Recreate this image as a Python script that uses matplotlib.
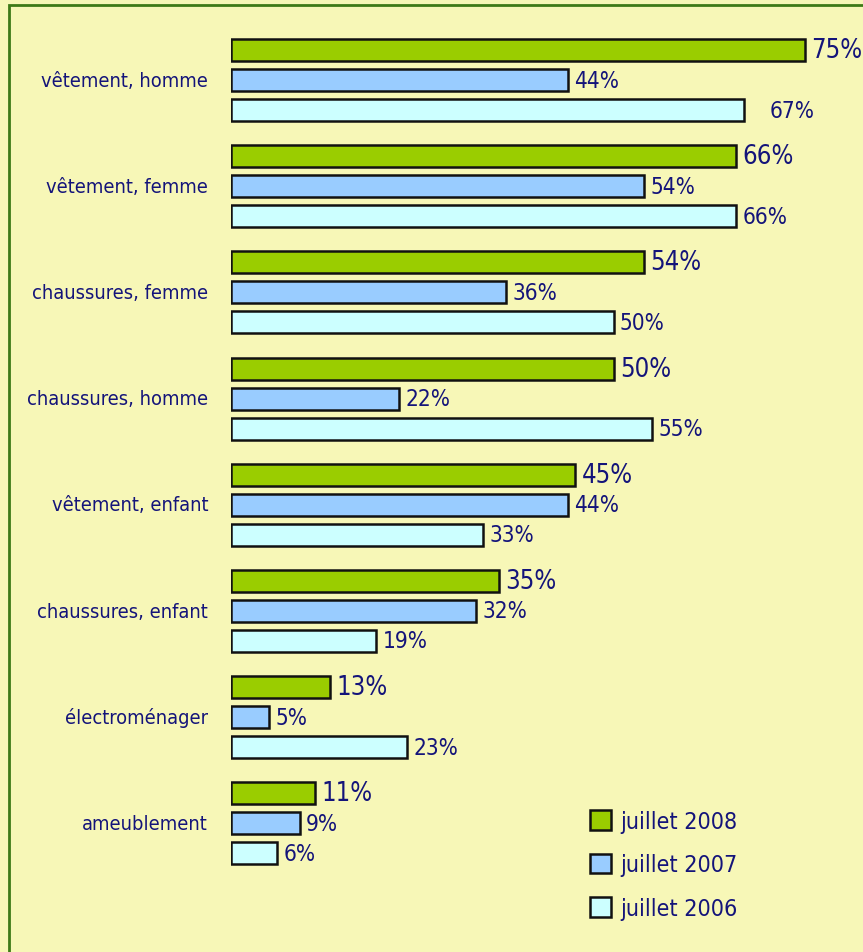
import matplotlib
matplotlib.use("Agg")
import matplotlib.pyplot as plt
from matplotlib.patches import Patch, Rectangle
from matplotlib import font_manager as fm
from matplotlib.textpath import TextPath
import numpy as np

categories = ["vêtement, homme", "vêtement, femme", "chaussures, femme", "chaussures, homme",
              "vêtement, enfant", "chaussures, enfant", "électroménager", "ameublement"]
series_names = ["juillet 2008", "juillet 2007", "juillet 2006"]
v2008 = [75, 66, 54, 50, 45, 35, 13, 11]
v2007 = [44, 54, 36, 22, 44, 32, 5, 9]
v2006 = [67, 66, 50, 55, 33, 19, 23, 6]

BG = "#F7F7B7"
TXT = "#14147A"
colors = ["#9ACD00", "#99CCFF", "#CCFFFF"]

# pick the most condensed installed sans face available
prop = None
prefs = ["LiberationSansNarrow-Regular", "DejaVuSansCondensed.ttf", "Condensed-Regular", "Narrow"]
files = [f.fname for f in fm.fontManager.ttflist]
for key in prefs:
    hits = [p for p in files if key in p.split("/")[-1] and "Bold" not in p and "Oblique" not in p
            and "Italic" not in p]
    if hits:
        prop = fm.FontProperties(fname=sorted(hits)[0])
        break
if prop is None:
    prop = fm.FontProperties(family="DejaVu Sans")


def fit(text, target_px):
    w = TextPath((0, 0), text, size=100, prop=prop).get_extents().width
    return 100 * (target_px * 0.72) / w


fs_cat = fit("vêtement, homme", 165)
fs_g = fit("75%", 48)
fs_v = fit("44%", 43)
fs_leg = fit("juillet 2008", 116)

W, H = 863, 953
fig = plt.figure(figsize=(W / 100, H / 100), dpi=100)
fig.patch.set_facecolor(BG)

x0 = 231
pxper = 7.65
ax = fig.add_axes([x0 / W, 0, (W - x0) / W, 1])
ax.set_facecolor("none")
ax.set_xlim(0, (W - x0) / pxper)
pitch = 106.2
ax.set_ylim((H - 81) / pitch, -81 / pitch)
ax.axis("off")

off = 30 / pitch
bh = 22 / pitch
y = np.arange(len(categories))
data = [v2008, v2007, v2006]
offsets = [-off, 0, off]
for si, (vals, c, o, name) in enumerate(zip(data, colors, offsets, series_names)):
    ax.barh(y + o, vals, height=bh, color=c, edgecolor="#111111", linewidth=1.8, label=name)
    fs = fs_g if si == 0 else fs_v
    for yi, v in zip(y, vals):
        gap = 19 if (si == 2 and yi == 0) else 4.5
        ax.annotate(f"{v}%", (v, yi + o), xytext=(gap, 0), textcoords="offset points",
                    ha="left", va="center", fontproperties=prop, fontsize=fs, color=TXT)

for yi, cat in zip(y, categories):
    ax.annotate(cat, (0, yi), xytext=(-16.5, 0), textcoords="offset points",
                ha="right", va="center", fontproperties=prop, fontsize=fs_cat, color=TXT)

handles = [Patch(facecolor=c, edgecolor="#111111", linewidth=1.8) for c in colors]
lp = prop.copy()
lp.set_size(fs_leg)
fpx = fs_leg * 100 / 72
leg = fig.legend(handles, series_names, loc="upper left", bbox_to_anchor=(578 / W, 1 - 799 / H),
                 frameon=False, prop=lp, handlelength=21 / fpx, handleheight=22 / fpx,
                 handletextpad=0.4, labelspacing=(48.0 - 1.17 * fpx) / fpx, borderpad=0,
                 labelcolor=TXT)

fig.patches.append(Rectangle((9 / W, -0.1), 1.1, 1 - 6 / H + 0.1, transform=fig.transFigure,
                             facecolor="none", edgecolor="#3D7A17", linewidth=2))

fig.savefig("out.png", dpi=100, facecolor=BG)
